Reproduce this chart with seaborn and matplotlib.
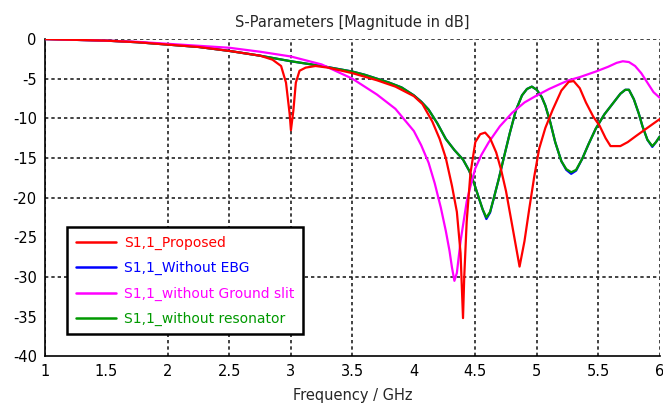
import numpy as np
import pandas as pd
import matplotlib
matplotlib.use("Agg")
import matplotlib.pyplot as plt
import seaborn as sns
from matplotlib.ticker import FuncFormatter

# ---------------- data ----------------
freq_proposed = [1.0, 1.25, 1.5, 1.75, 2.0, 2.25, 2.5, 2.75, 2.85, 2.92, 2.96, 2.99, 3.0, 3.02,
                 3.04, 3.07, 3.12, 3.2, 3.3, 3.5, 3.7, 3.85, 4.0, 4.07, 4.15, 4.21, 4.26, 4.31,
                 4.35, 4.38, 4.40, 4.41, 4.43, 4.46, 4.5, 4.54, 4.58, 4.62, 4.67, 4.71, 4.75,
                 4.8, 4.86, 4.9, 4.94, 4.98, 5.02, 5.07, 5.13, 5.2, 5.26, 5.3, 5.35, 5.4, 5.46,
                 5.51, 5.56, 5.6, 5.68, 5.74, 5.81, 5.9, 6.0]
s11_proposed = [0, -0.1, -0.2, -0.4, -0.7, -1.0, -1.5, -2.1, -2.6, -3.4, -5.5, -9.5, -11.5, -9.0,
                -5.5, -4.0, -3.6, -3.4, -3.6, -4.3, -5.2, -6.0, -7.2, -8.2, -10.4, -12.6, -15.0,
                -18.5, -21.8, -27.0, -35.2, -30.0, -23.0, -17.0, -13.0, -12.0, -11.8, -12.5,
                -14.3, -16.5, -19.2, -23.5, -28.7, -25.5, -21.3, -17.3, -13.8, -11.2, -8.9,
                -6.5, -5.4, -5.3, -6.2, -8.0, -9.8, -10.9, -12.5, -13.5, -13.5, -13.0, -12.2,
                -11.2, -10.1]

freq_noebg = [1.0, 1.25, 1.5, 1.75, 2.0, 2.25, 2.5, 2.75, 3.0, 3.25, 3.5, 3.6, 3.7, 3.8, 3.9,
              4.0, 4.06, 4.12, 4.19, 4.26, 4.33, 4.40, 4.45, 4.49, 4.53, 4.56, 4.59, 4.62, 4.65,
              4.69, 4.73, 4.78, 4.83, 4.88, 4.92, 4.96, 5.0, 5.04, 5.07, 5.11, 5.15, 5.2, 5.24,
              5.28, 5.32, 5.37, 5.42, 5.48, 5.55, 5.62, 5.68, 5.72, 5.75, 5.79, 5.83, 5.86,
              5.9, 5.94, 5.97, 6.0]
s11_noebg = [0, -0.1, -0.2, -0.4, -0.7, -1.0, -1.5, -2.1, -2.8, -3.4, -4.1, -4.5, -5.0, -5.5,
             -6.1, -7.1, -7.9, -8.9, -10.6, -12.6, -14.0, -15.2, -16.6, -18.2, -20.1, -21.5,
             -22.7, -21.9, -20.1, -17.7, -15.1, -11.9, -9.0, -7.1, -6.3, -6.0, -6.4, -7.3,
             -8.4, -10.5, -13.0, -15.4, -16.5, -17.0, -16.6, -15.1, -13.3, -11.3, -9.5, -8.1,
             -6.9, -6.4, -6.4, -7.6, -9.4, -11.0, -12.7, -13.6, -13.0, -12.3]

freq_noslit = [1.0, 1.25, 1.5, 1.75, 2.0, 2.25, 2.5, 2.75, 3.0, 3.25, 3.5, 3.7, 3.85, 4.0, 4.06,
               4.12, 4.17, 4.22, 4.26, 4.29, 4.31, 4.33, 4.35, 4.38, 4.41, 4.43, 4.46, 4.5,
               4.55, 4.61, 4.7, 4.8, 4.9, 4.99, 5.1, 5.2, 5.26, 5.35, 5.48, 5.58, 5.65, 5.70,
               5.75, 5.8, 5.85, 5.9, 5.95, 6.0]
s11_noslit = [0, -0.1, -0.2, -0.35, -0.6, -0.85, -1.1, -1.6, -2.2, -3.2, -5.0, -7.0, -8.8,
              -11.6, -13.4, -15.6, -18.2, -21.3, -24.2, -26.7, -28.8, -30.5, -29.5, -25.5,
              -22.5, -20.5, -18.6, -16.3, -14.6, -13.0, -11.0, -9.3, -8.0, -7.2, -6.3, -5.6,
              -5.2, -4.8, -4.1, -3.5, -3.0, -2.8, -2.9, -3.4, -4.3, -5.5, -6.7, -7.4]

freq_nores = list(freq_noebg)
s11_nores = [0, -0.1, -0.2, -0.4, -0.7, -1.0, -1.5, -2.1, -2.8, -3.4, -4.1, -4.5, -5.0, -5.5,
             -6.1, -7.1, -7.9, -8.9, -10.6, -12.6, -14.0, -15.2, -16.6, -18.2, -20.1, -21.5,
             -22.5, -21.8, -20.1, -17.7, -15.1, -11.9, -9.0, -7.1, -6.3, -6.0, -6.4, -7.3,
             -8.4, -10.5, -13.0, -15.4, -16.4, -16.8, -16.5, -15.1, -13.3, -11.3, -9.5, -8.1,
             -6.9, -6.4, -6.4, -7.6, -9.4, -11.0, -12.7, -13.5, -13.0, -12.3]

series_names = ["S1,1_Proposed", "S1,1_Without EBG", "S1,1_without Ground slit",
                "S1,1_without resonator"]
series_colors = ["#ff0000", "#0000ff", "#ff00ff", "#009900"]
x_ticks = [1, 1.5, 2, 2.5, 3, 3.5, 4, 4.5, 5, 5.5, 6]
y_ticks = [0, -5, -10, -15, -20, -25, -30, -35, -40]

# ---------------- frame ----------------
frames = []
for name, f, s in zip(series_names,
                      [freq_proposed, freq_noebg, freq_noslit, freq_nores],
                      [s11_proposed, s11_noebg, s11_noslit, s11_nores]):
    frames.append(pd.DataFrame({"freq": f, "s11": s, "series": name}))
df = pd.concat(frames, ignore_index=True)

sns.set_style("white")
plt.rcParams["font.family"] = ["DejaVu Sans"]

fig = plt.figure(figsize=(6.63, 4.2), dpi=100)
ax = fig.add_axes([0.068, 0.152, 0.927, 0.755])

draw_order = [1, 3, 2, 0]
palette = dict(zip(series_names, series_colors))
for k, i in enumerate(draw_order):
    name = series_names[i]
    sub = df[df["series"] == name]
    sns.lineplot(data=sub, x="freq", y="s11", color=palette[name], linewidth=1.6,
                 sort=False, estimator=None, ax=ax, legend=False, zorder=3 + k)

ax.set_xlim(1, 6)
ax.set_ylim(-40, 0)
ax.set_xticks(x_ticks)
ax.set_yticks(y_ticks)
ax.xaxis.set_major_formatter(FuncFormatter(lambda v, p: f"{v:g}"))
ax.yaxis.set_major_formatter(FuncFormatter(lambda v, p: f"{v:g}"))
ax.tick_params(axis="both", labelsize=10.5, direction="inout", length=6, width=1,
               colors="black", pad=3)

ax.grid(True, color="#222222", linestyle=(0, (2, 1.8)), linewidth=1.2)
for gl in ax.xaxis.get_gridlines():
    if abs(gl.get_xdata()[0] - 1) < 1e-6 or abs(gl.get_xdata()[0] - 6) < 1e-6:
        gl.set_visible(False)
for gl in ax.yaxis.get_gridlines():
    if abs(gl.get_ydata()[0]) < 1e-6 or abs(gl.get_ydata()[0] + 40) < 1e-6:
        gl.set_visible(False)

for side in ["top", "right"]:
    ax.spines[side].set_visible(False)
for side in ["left", "bottom"]:
    ax.spines[side].set_color("black")
    ax.spines[side].set_linewidth(1.2)

ax.set_title("S-Parameters [Magnitude in dB]", fontsize=10.5, pad=9)
ax.set_xlabel("Frequency / GHz", fontsize=10.5, labelpad=6)
ax.set_ylabel("")

handles = [plt.Line2D([], [], color=c, linewidth=1.8) for c in series_colors]
leg = ax.legend(handles, series_names, loc="upper left", bbox_to_anchor=(0.036, 0.407),
                borderaxespad=0, fancybox=False, frameon=True, fontsize=10,
                handlelength=2.9, handletextpad=0.6, labelspacing=0.82, borderpad=0.6)
leg.get_frame().set_edgecolor("black")
leg.get_frame().set_linewidth(1.8)
leg.get_frame().set_alpha(1)
for txt, c in zip(leg.get_texts(), series_colors):
    txt.set_color(c)
leg.set_zorder(10)

fig.savefig("out.png", dpi=100)
